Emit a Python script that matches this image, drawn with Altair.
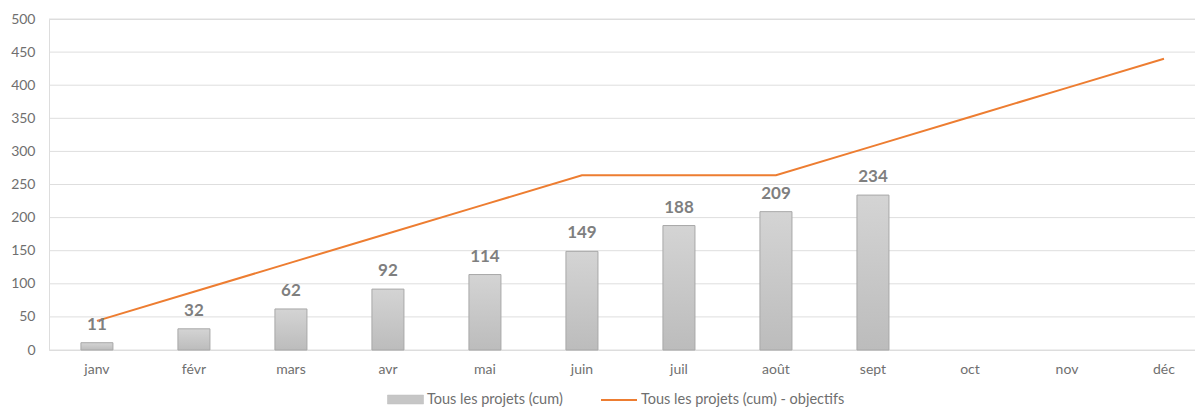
import altair as alt
import pandas as pd

months = ["janv", "févr", "mars", "avr", "mai", "juin", "juil", "août", "sept", "oct", "nov", "déc"]
actual = [11, 32, 62, 92, 114, 149, 188, 209, 234, None, None, None]
objectif = [44, 88, 132, 176, 220, 264, 264, 264, 308, 352, 396, 440]
y_ticks = [0, 50, 100, 150, 200, 250, 300, 350, 400, 450, 500]

S1 = "Tous les projets (cum)"
S2 = "Tous les projets (cum) - objectifs"

df = pd.DataFrame({
    "month": months,
    "actual": actual,
    "objectif": objectif,
    "s1": [S1] * len(months),
    "s2": [S2] * len(months),
})
ticks_df = pd.DataFrame({"tick": y_ticks})

FONT = "Lato"
LABEL_COLOR = "#6f6f6f"

x = alt.X(
    "month:N",
    sort=months,
    title=None,
    scale=alt.Scale(paddingInner=0.67, paddingOuter=0.242, align=0.68),
    axis=alt.Axis(labelAngle=0, domain=False, ticks=False, tickSize=0, labelPadding=12,
                  labelFontSize=14, labelColor=LABEL_COLOR, labelFont=FONT, grid=False),
)

yscale = alt.Scale(domain=[0, 500], nice=False, zero=True)
yaxis = alt.Axis(values=y_ticks, tickCount=11, labelOverlap=False, domain=False, ticks=False,
                 tickSize=0, labelPadding=14, labelFontSize=14, labelColor=LABEL_COLOR,
                 labelFont=FONT, grid=False)

# gridlines drawn from the tick list through the y scale
grid = alt.Chart(ticks_df).mark_rule(color="#dedede", strokeWidth=1).encode(
    y=alt.Y("tick:Q", scale=yscale, title=None, axis=yaxis),
)

base = alt.Chart(df)

bar_legend = base.mark_bar(opacity=0).encode(
    x=x,
    y=alt.Y("actual:Q", scale=yscale, title=None, axis=yaxis),
    fill=alt.Fill("s1:N", title=None,
                  scale=alt.Scale(domain=[S1], range=["#c6c6c6"]),
                  legend=alt.Legend(orient="none", legendX=338, legendY=362, padding=0,
                                    symbolType="M-1,-0.25H1V0.25H-1Z", symbolSize=1296,
                                    symbolOpacity=1, symbolStrokeColor="#bdbdbd", symbolStrokeWidth=0.5,
                                    labelOffset=3, labelFontSize=14.5, labelColor=LABEL_COLOR,
                                    labelFont=FONT, labelLimit=400)),
)

grad = alt.Gradient(
    gradient="linear",
    stops=[alt.GradientStop(color="#d4d4d4", offset=0), alt.GradientStop(color="#bcbcbc", offset=1)],
    x1=0, x2=0, y1=0, y2=1,
)

bars = base.mark_bar(color=grad, stroke="#a8a8a8", strokeWidth=1).encode(
    x=x,
    y=alt.Y("actual:Q", scale=yscale, title=None, axis=yaxis),
)

labels = base.transform_filter("isValid(datum.actual)").mark_text(
    baseline="alphabetic", dy=-13, fontSize=17, fontWeight="bold", color="#7f7f7f", font=FONT
).encode(
    x=x,
    y=alt.Y("actual:Q", scale=yscale, title=None, axis=yaxis),
    text=alt.Text("actual:Q"),
)

line = base.mark_line(strokeWidth=2).encode(
    x=x,
    y=alt.Y("objectif:Q", scale=yscale, title=None, axis=yaxis),
    stroke=alt.Stroke("s2:N", title=None,
                      scale=alt.Scale(domain=[S2], range=["#ed7d31"]),
                      legend=alt.Legend(orient="none", legendX=551, legendY=362, padding=0,
                                        symbolType="stroke", symbolSize=1296, symbolStrokeWidth=2,
                                        labelOffset=3, labelFontSize=14.5, labelColor=LABEL_COLOR,
                                        labelFont=FONT, labelLimit=400)),
)

chart = alt.layer(grid, bar_legend, bars, line, labels).resolve_legend(
    fill="independent", stroke="independent"
).properties(
    width=1146,
    height=331,
    autosize=alt.AutoSizeParams(type="none"),
    padding={"left": 41, "top": 11, "right": 0, "bottom": 58},
).configure_view(stroke=None).configure(font=FONT)

chart.save("out.html", embed_options={"renderer": "svg", "actions": False})
